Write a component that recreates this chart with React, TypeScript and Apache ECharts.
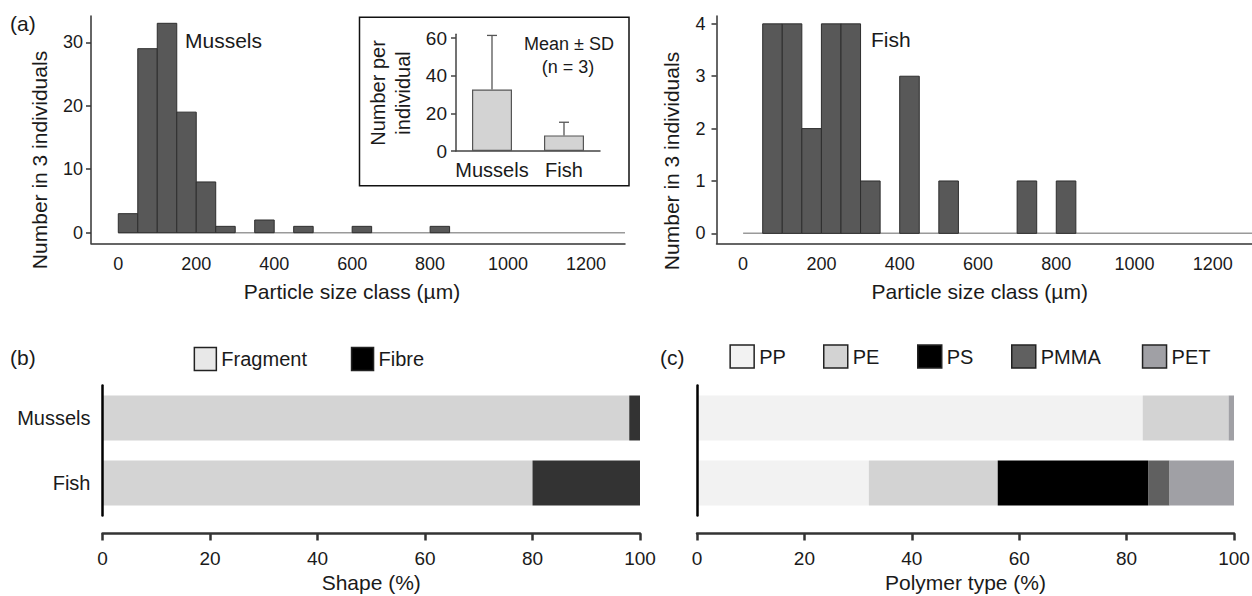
import React, { useEffect, useRef } from "react";
import * as echarts from "echarts";

// ---------- data ----------
const binWidth = 50;
const musselBinStart = [0, 50, 100, 150, 200, 250, 350, 450, 600, 800];
const musselCounts = [3, 29, 33, 19, 8, 1, 2, 1, 1, 1];
const fishBinStart = [50, 100, 150, 200, 250, 300, 400, 500, 700, 800];
const fishCounts = [4, 4, 2, 4, 4, 1, 3, 1, 1, 1];
const sizeTicks = [0, 200, 400, 600, 800, 1000, 1200];
const baselineRange = [0, 1300];
const musselYTicks = [0, 10, 20, 30];
const fishYTicks = [0, 1, 2, 3, 4];

const insetGroups = ["Mussels", "Fish"];
const insetMeans = [32.7, 8.3];
const insetSD = [28.8, 7.0];
const insetTicks = [0, 20, 40, 60];

const organisms = ["Mussels", "Fish"];
const fragment = [98, 80];
const fibre = [2, 20];

const polymers = ["PP", "PE", "PS", "PMMA", "PET"];
const pp = [83, 32];
const pe = [16, 24];
const ps = [0, 28];
const pmma = [0, 4];
const pet = [1, 12];

// ---------- styles ----------
const FONT = "'Liberation Sans', Arial, sans-serif";
const TXT = "#1a1a1a";
const AX = "#333";
const polymerColors = ["#f2f2f2", "#d3d3d3", "#000000", "#606060", "#a0a0a5"];
const polymerSeries = [pp, pe, ps, pmma, pet];
const polymerLegendLeft = [729.4, 823, 917, 1011, 1141.8];

const histRender = (fill: string) => (params: any, api: any) => {
  const p0 = api.coord([api.value(0), api.value(2)]);
  const p1 = api.coord([api.value(1), 0]);
  return {
    type: "rect",
    shape: { x: p0[0], y: p0[1], width: p1[0] - p0[0], height: p1[1] - p0[1] },
    style: { fill, stroke: "#2e2e2e", lineWidth: 1 },
  };
};

const errRender = (params: any, api: any) => {
  const x = api.value(0);
  const m = api.value(1);
  const sd = api.value(2);
  const base = api.coord([x, m]);
  const top = api.coord([x, m + sd]);
  const st = { stroke: "#555", lineWidth: 1.3 };
  return {
    type: "group",
    children: [
      { type: "line", shape: { x1: base[0], y1: base[1], x2: top[0], y2: top[1] }, style: st },
      { type: "line", shape: { x1: top[0] - 5, y1: top[1], x2: top[0] + 5, y2: top[1] }, style: st },
    ],
  };
};

const histX = (gi: number, min: number, padR: number) => ({
  gridIndex: gi,
  type: "value",
  min,
  max: 1300,
  axisLine: { show: true, onZero: false, lineStyle: { color: AX, width: 1.5 } },
  axisTick: { show: false },
  splitLine: { show: false },
  axisLabel: {
    customValues: sizeTicks,
    formatter: (v: number) => String(v),
    fontSize: 18,
    color: TXT,
    margin: 12,
  },
  name: "Particle size class (µm)",
  nameLocation: "middle",
  nameGap: 38,
  nameTextStyle: { fontSize: 21, color: TXT, padding: [0, padR, 0, 0] },
});

const histY = (gi: number, min: number, max: number, ticks: number[], margin: number) => ({
  gridIndex: gi,
  type: "value",
  min,
  max,
  axisLine: { show: true, onZero: false, lineStyle: { color: AX, width: 1.5 } },
  axisTick: { show: true, customValues: ticks, length: 5, lineStyle: { color: AX, width: 1.5 } },
  axisLabel: { customValues: ticks, fontSize: 18, color: TXT, margin },
  splitLine: { show: false },
});

const pctX = (gi: number, name: string) => ({
  gridIndex: gi,
  type: "value",
  min: 0,
  max: 100,
  interval: 20,
  offset: 18,
  axisLine: { show: true, lineStyle: { color: AX, width: 2.5 } },
  axisTick: { show: true, length: 7, lineStyle: { color: AX, width: 2.5 } },
  splitLine: { show: false },
  axisLabel: { fontSize: 19, color: TXT, margin: 15 },
  name,
  nameLocation: "middle",
  nameGap: 38,
  nameTextStyle: { fontSize: 21, color: TXT },
});

const catY = (gi: number, showLabel: boolean) => ({
  gridIndex: gi,
  type: "category",
  data: organisms,
  inverse: true,
  z: 10,
  axisLine: { show: true, lineStyle: { color: "#000", width: 2.5 } },
  axisTick: { show: false },
  axisLabel: { show: showLabel, fontSize: 20, color: TXT, margin: 12 },
  splitLine: { show: false },
});

const legendItem = (name: string, left: number, top: number, w: number, color: string) => ({
  data: [name],
  left,
  top,
  padding: 0,
  icon: "rect",
  itemWidth: w,
  itemHeight: 23,
  itemStyle: { color, borderColor: "#222", borderWidth: 1.5 },
  textStyle: { fontSize: 20, color: TXT, fontFamily: FONT },
  selectedMode: false,
});

const txt = (text: string, x: number, y: number, size: number, align = "left", extra: any = {}) => ({
  type: "text",
  x,
  y,
  ...extra,
  style: { text, fontSize: size, fill: TXT, fontFamily: FONT, align, verticalAlign: "middle", ...(extra.style || {}) },
});

export default function App() {
  const ref = useRef<HTMLDivElement>(null);
  useEffect(() => {
    document.body.style.margin = "0";
    if (!ref.current) return;
    const chart = echarts.init(ref.current, undefined, { renderer: "svg" });
    const option: any = {
      animation: false,
      textStyle: { fontFamily: FONT },
      grid: [
        { left: 91, top: 16, width: 534, height: 227.3, containLabel: false, outerBoundsMode: "none" },
        { left: 716.5, top: 16, width: 535.5, height: 227.3, containLabel: false, outerBoundsMode: "none" },
        { left: 456, top: 34.3, width: 144, height: 116.7, containLabel: false, outerBoundsMode: "none" },
        { left: 102.5, top: 385.5, width: 537.5, height: 130, containLabel: false, outerBoundsMode: "none" },
        { left: 697, top: 385.5, width: 537, height: 130, containLabel: false, outerBoundsMode: "none" },
      ],
      xAxis: [
        histX(0, -70, 12),
        histX(1, -68, 9),
        {
          gridIndex: 2,
          type: "category",
          data: insetGroups,
          axisLine: { show: true, lineStyle: { color: "#444", width: 1.5 } },
          axisTick: { show: false },
          axisLabel: { interval: 0, hideOverlap: false, fontSize: 20, color: TXT, margin: 9 },
        },
        pctX(3, "Shape (%)"),
        pctX(4, "Polymer type (%)"),
      ],
      yAxis: [
        histY(0, -1.67, 34.15, musselYTicks, 8),
        histY(1, -0.19, 4.15, fishYTicks, 11),
        {
          gridIndex: 2,
          type: "value",
          min: 0,
          max: 62.1,
          axisLine: { show: true, lineStyle: { color: "#444", width: 1.5 } },
          axisTick: { show: true, customValues: insetTicks, length: 5, lineStyle: { color: "#444", width: 1.5 } },
          axisLabel: { customValues: insetTicks, fontSize: 19, color: TXT, margin: 9 },
          splitLine: { show: false },
        },
        catY(3, true),
        catY(4, false),
      ],
      legend: [
        legendItem("Fragment", 193.6, 346.7, 22, "#e8e8e8"),
        legendItem("Fibre", 350.8, 346.7, 22, "#000000"),
        ...polymers.map((p, i) => legendItem(p, polymerLegendLeft[i], 344.3, 24, polymerColors[i])),
      ],
      series: [
        {
          type: "line",
          xAxisIndex: 0,
          yAxisIndex: 0,
          data: [[baselineRange[0], 0], [baselineRange[1], 0]],
          symbol: "none",
          lineStyle: { color: "#9a9a9a", width: 1.5 },
          silent: true,
          z: 1,
        },
        {
          type: "custom",
          xAxisIndex: 0,
          yAxisIndex: 0,
          data: musselBinStart.map((s, i) => [s, s + binWidth, musselCounts[i]]),
          encode: { x: [0, 1], y: 2 },
          renderItem: histRender("#585858"),
          z: 2,
        },
        {
          type: "line",
          xAxisIndex: 1,
          yAxisIndex: 1,
          data: [[baselineRange[0], 0], [baselineRange[1], 0]],
          symbol: "none",
          lineStyle: { color: "#9a9a9a", width: 1.5 },
          silent: true,
          z: 1,
        },
        {
          type: "custom",
          xAxisIndex: 1,
          yAxisIndex: 1,
          data: fishBinStart.map((s, i) => [s, s + binWidth, fishCounts[i]]),
          encode: { x: [0, 1], y: 2 },
          renderItem: histRender("#585858"),
          z: 2,
        },
        {
          type: "bar",
          xAxisIndex: 2,
          yAxisIndex: 2,
          data: insetMeans,
          barWidth: 40,
          itemStyle: { color: "#d3d3d3", borderColor: "#555", borderWidth: 1.2 },
          z: 3,
        },
        {
          type: "custom",
          xAxisIndex: 2,
          yAxisIndex: 2,
          data: insetMeans.map((m, i) => [i, m, insetSD[i]]),
          encode: { x: 0, y: [1] },
          renderItem: errRender,
          z: 4,
        },
        {
          name: "Fragment",
          type: "bar",
          xAxisIndex: 3,
          yAxisIndex: 3,
          stack: "shape",
          data: fragment,
          barWidth: 45,
          itemStyle: { color: "#d4d4d4" },
        },
        {
          name: "Fibre",
          type: "bar",
          xAxisIndex: 3,
          yAxisIndex: 3,
          stack: "shape",
          data: fibre,
          barWidth: 45,
          itemStyle: { color: "#333333" },
        },
        ...polymers.map((p, i) => ({
          name: p,
          type: "bar",
          xAxisIndex: 4,
          yAxisIndex: 4,
          stack: "poly",
          data: polymerSeries[i],
          barWidth: 45,
          itemStyle: { color: polymerColors[i] },
        })),
      ],
      graphic: [
        {
          type: "rect",
          shape: { x: 359.5, y: 17.3, width: 269.5, height: 168.5 },
          style: { fill: "none", stroke: "#111", lineWidth: 1.5 },
          z: 0,
        },
        txt("(a)", 10, 23, 21),
        txt("(b)", 10, 357, 21),
        txt("(c)", 660, 357, 21),
        txt("Mussels", 185, 40, 21),
        txt("Fish", 871, 39, 21),
        txt("Mean ± SD", 569, 44, 18, "center"),
        txt("(n = 3)", 568, 67, 18, "center"),
        txt("Number in 3 individuals", 39, 160, 21, "center", { rotation: Math.PI / 2 }),
        txt("Number in 3 individuals", 671, 161, 21, "center", { rotation: Math.PI / 2 }),
        txt("Number per\nindividual", 390.5, 93, 20, "center", {
          rotation: Math.PI / 2,
          style: { lineHeight: 25 },
        }),
      ],
    };
    chart.setOption(option);
    return () => chart.dispose();
  }, []);
  return <div ref={ref} style={{ width: 1252, height: 596 }} />;
}
